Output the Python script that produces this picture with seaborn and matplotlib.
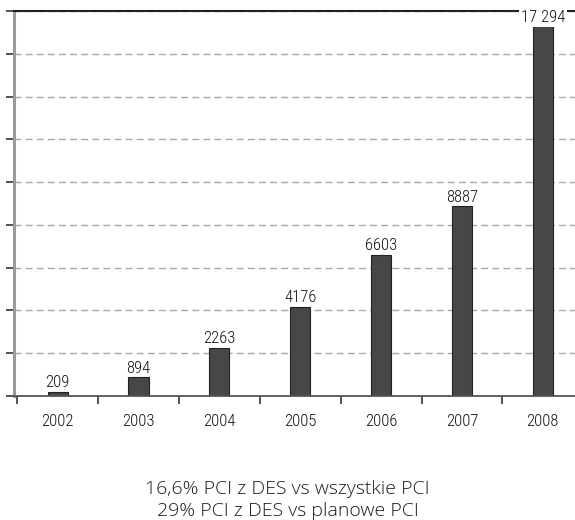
import matplotlib
matplotlib.use("Agg")
import matplotlib.pyplot as plt
import seaborn as sns
import pandas as pd

years = ["2002", "2003", "2004", "2005", "2006", "2007", "2008"]
values = [209, 894, 2263, 4176, 6603, 8887, 17294]
labels = ["209", "894", "2263", "4176", "6603", "8887", "17 294"]
caption = ["16,6% PCI z DES vs wszystkie PCI", "29% PCI z DES vs planowe PCI"]

sns.set_style("white")
narrow = ["Roboto Condensed", "DejaVu Sans"]

df = pd.DataFrame({"year": years, "value": values})
fig = plt.figure(figsize=(5.75, 5.2), dpi=100)
ax = fig.add_axes([0.0243, 0.2385, 0.99, 0.7403])

sns.barplot(data=df, x="year", y="value", order=years, color="#474747",
            edgecolor="#222222", linewidth=0.8, width=0.25, ax=ax, saturation=1)

ax.set_ylim(0, 18000)
ax.set_xlim(-0.54, 6.5)
ax.set_yticks(range(0, 18001, 2000))
ax.set_yticklabels([])
ax.yaxis.grid(True, linestyle=(0, (5, 3)), color="#a8a8a8", linewidth=1.0)
ax.set_axisbelow(True)

ax.set_xticks([i + 0.5 for i in range(-1, 7)], minor=False)
ax.set_xticklabels([])
for i, y in enumerate(years):
    ax.text(i, -0.065, y, transform=ax.get_xaxis_transform(), ha="center", va="center",
            fontsize=12, family=narrow, fontstretch="condensed", fontweight="light",
            color="#111111")

ax.tick_params(axis="y", left=True, length=6, width=1.3, color="#444444", direction="out")
ax.tick_params(axis="x", bottom=True, length=6, width=1.3, color="#444444", direction="out")

ax.spines["right"].set_visible(False)
ax.spines["left"].set_color("#9a9a9a")
ax.spines["left"].set_linewidth(2.2)
ax.spines["bottom"].set_color("#555555")
ax.spines["bottom"].set_linewidth(1.3)
ax.spines["top"].set_color("#222222")
ax.spines["top"].set_linewidth(1.5)
ax.set_xlabel("")
ax.set_ylabel("")

for i, (v, lab) in enumerate(zip(values, labels)):
    t = ax.text(i, v + 60, lab, ha="center", va="bottom", fontsize=12,
                family=narrow, fontstretch="condensed", fontweight="light",
                color="#111111", zorder=5)
    if i == len(values) - 1:
        t.set_bbox(dict(facecolor="white", edgecolor="none", pad=1.5))
        t.set_clip_on(False)

fig.text(0.5, 1 - 489 / 520, caption[0], ha="center", va="center", fontsize=14,
         family="Open Sans", fontweight="light", color="#1a1a1a")
fig.text(0.5, 1 - 511 / 520, caption[1], ha="center", va="center", fontsize=14,
         family="Open Sans", fontweight="light", color="#1a1a1a")

fig.savefig("out.png", dpi=100)
